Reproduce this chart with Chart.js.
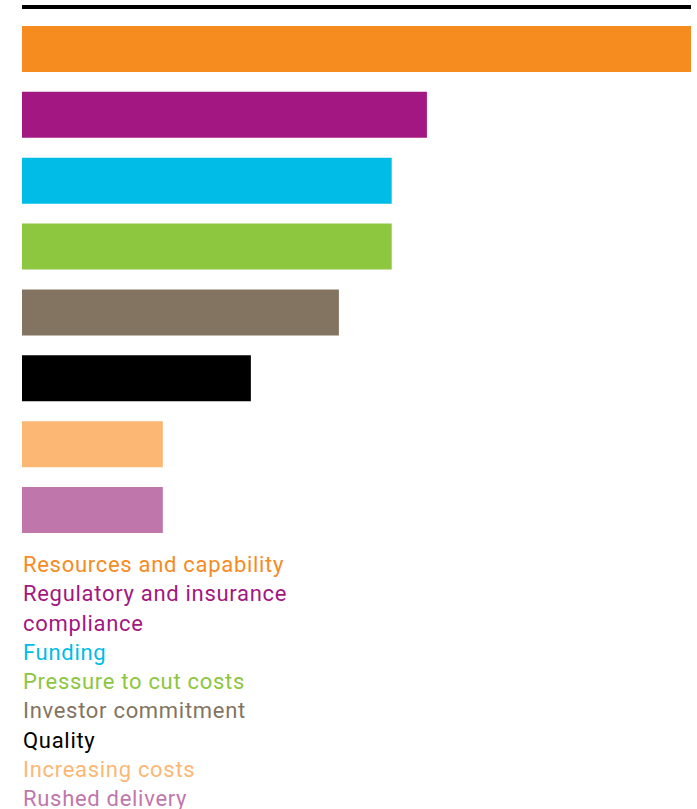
<!DOCTYPE html>
<html lang="en">
<head>
    <meta charset="UTF-8">
    <title>Challenges</title>
    <script src="https://cdn.jsdelivr.net/npm/chart.js"></script>
    <style>
        body { margin: 0; background: #fff; font-family: Roboto, sans-serif; }
        #topRule { position: absolute; left: 22px; top: 5px; width: 669px; border-top: 4px solid #000; }
        #legend { margin: 2px 0 0 23px; width: 285px; font-size: 22px; line-height: 29.3px; letter-spacing: 0.7px; }
    </style>
</head>
<body>
    <div id="topRule"></div>
    <canvas id="challengesChart" width="697" height="548"></canvas>
    <div id="legend"></div>

    <script>
        const categories = ['Resources and capability', 'Regulatory and insurance compliance', 'Funding',
            'Pressure to cut costs', 'Investor commitment', 'Quality', 'Increasing costs', 'Rushed delivery'];
        const values = [38, 23, 21, 21, 18, 13, 8, 8];
        const colours = ['#F68B1F', '#A21781', '#00BCE7', '#8DC63F', '#827461', '#000000', '#FDB775', '#BF77AB'];

        new Chart(document.getElementById('challengesChart'), {
            type: 'bar',
            data: {
                labels: categories,
                datasets: [{
                    data: values,
                    backgroundColor: colours,
                    borderWidth: 0,
                    barPercentage: 0.7,
                    categoryPercentage: 1
                }]
            },
            options: {
                indexAxis: 'y',
                responsive: false,
                animation: false,
                layout: { padding: { left: 22, right: 6, top: 16, bottom: 5 } },
                plugins: { legend: { display: false }, tooltip: { enabled: false } },
                scales: {
                    x: { display: false, min: 0, max: 38 },
                    y: { display: false }
                }
            }
        });

        // legend as plain coloured text lines
        const legend = document.getElementById('legend');
        categories.forEach((name, i) => {
            const line = document.createElement('div');
            line.textContent = name;
            line.style.color = colours[i];
            legend.appendChild(line);
        });
    </script>
</body>
</html>
